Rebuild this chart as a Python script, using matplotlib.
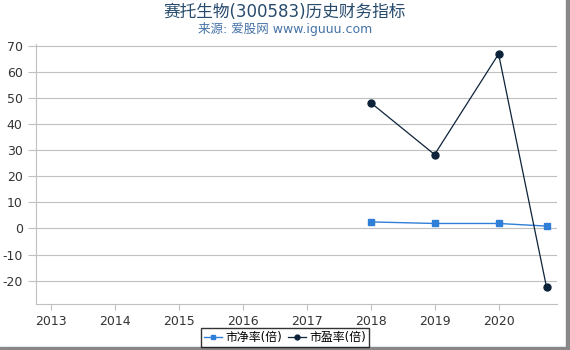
import matplotlib
matplotlib.use("Agg")
import matplotlib.pyplot as plt
from matplotlib.patches import Rectangle

plt.rcParams['font.family'] = ['DejaVu Sans', 'Noto Sans CJK SC']
plt.rcParams['axes.unicode_minus'] = False

years = [2013, 2014, 2015, 2016, 2017, 2018, 2019, 2020]
dates = [2018.0, 2019.0, 2020.0, 2020.75]
pb = [2.5, 1.9, 1.9, 0.9]
pe = [48.2, 28.3, 66.8, -22.6]
yticks = [-20, -10, 0, 10, 20, 30, 40, 50, 60, 70]

fig = plt.figure(figsize=(5.70, 3.50), dpi=100)
ax = fig.add_axes([0.063, 0.131, 0.915, 0.743])

ax.plot(dates, pb, color='#2f7ed8', marker='s', markersize=5, linewidth=1, label='市净率(倍)')
ax.plot(dates, pe, color='#0d233a', marker='o', markersize=5, linewidth=0.9, label='市盈率(倍)')

ax.set_xlim(2012.77, 2020.92)
ax.set_ylim(-29, 70.6)
ax.set_xticks(years)
ax.set_xticklabels([str(y) for y in years])
ax.set_yticks(yticks)
ax.grid(axis='y', color='#c0c0c0', linewidth=0.8)
ax.set_axisbelow(True)
for s in ['top', 'right']:
    ax.spines[s].set_visible(False)
for s in ['left', 'bottom']:
    ax.spines[s].set_color('#c0c0c0')
ax.tick_params(axis='both', colors='#c0c0c0', labelcolor='#333333', labelsize=9, length=4)
ax.tick_params(axis='y', length=6)

fig.text(0.5, 0.965, '赛托生物(300583)历史财务指标', ha='center', va='center', fontsize=12, color='#274b6d')
fig.text(0.5, 0.918, '来源: 爱股网 www.iguuu.com', ha='center', va='center', fontsize=9, color='#4572a7')

leg = fig.legend(*ax.get_legend_handles_labels(), loc='center', bbox_to_anchor=(0.5, 0.035), ncol=2,
                 fontsize=8.6, frameon=True, fancybox=False, handlelength=1.5, handletextpad=0.3,
                 columnspacing=0.5, borderpad=0.25, markerscale=0.7)
leg.get_frame().set_edgecolor('black')
leg.get_frame().set_linewidth(1)

# grey shadow on the right and bottom edges of the figure
fig.patches.append(Rectangle((0.993, 0), 0.007, 1, transform=fig.transFigure, color='#888888', zorder=0))
fig.patches.append(Rectangle((0, 0), 1, 0.009, transform=fig.transFigure, color='#888888', zorder=0))

fig.savefig('out.png', dpi=100)
